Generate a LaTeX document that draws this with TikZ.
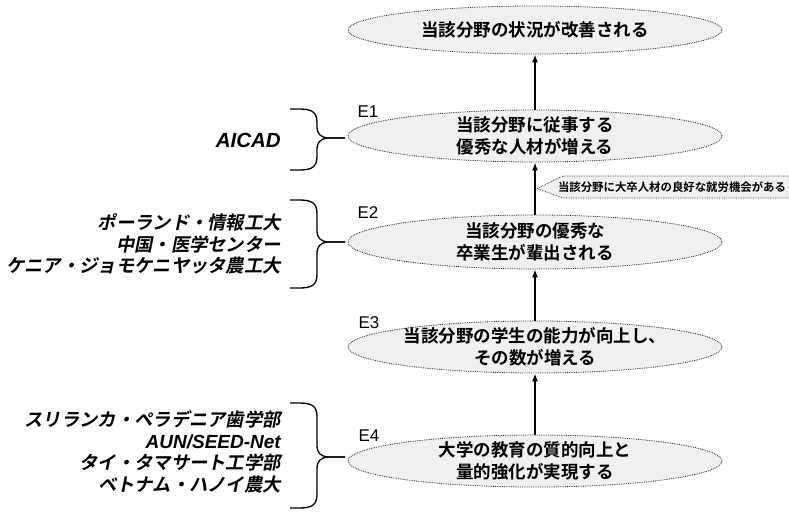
\documentclass[tikz,border=0pt]{standalone}
\usepackage{fontspec}
\setsansfont{Liberation Sans}
\newfontfamily\jp{Noto Sans CJK JP}[BoldFont={Noto Sans CJK JP Bold}]
\newfontfamily\jpit{Noto Sans CJK JP Bold}[FakeSlant=0.2]
\usetikzlibrary{shapes.geometric,arrows.meta,calc}

% curly bracket from the organisations to one goal: top, bottom, tip
\newcommand{\orgbrace}[3]{%
  \draw[bracket] (290,#1) -- (299,#1) .. controls (312,#1) and (317,#1+3) .. (317,#1+14)
    -- (317,#3-12) .. controls (317,#3-4) and (320,#3-1) .. (328,#3) -- (345,#3);
  \draw[bracket] (345,#3) -- (328,#3) .. controls (320,#3+1) and (317,#3+4) .. (317,#3+12)
    -- (317,#2-14) .. controls (317,#2-3) and (312,#2) .. (299,#2) -- (290,#2);}

\tikzset{
  goal/.style={ellipse, draw=black!85, densely dotted, line width=0.8pt, fill=gray!12,
    minimum width=374pt, minimum height=52pt, inner sep=-8pt, align=center,
    font=\jp\bfseries\fontsize{17.5}{22}\selectfont},
  elabel/.style={inner sep=0pt, font=\sffamily\fontsize{17}{17}\selectfont},
  orgs/.style={anchor=east, align=right, inner sep=0pt,
    font=\jpit\fontsize{18.3}{21.5}\selectfont},
  latinorg/.style={font=\sffamily\bfseries\itshape\fontsize{20.5}{24}\selectfont},
  link/.style={-{Latex[length=8pt,width=6pt]}, line width=1.6pt},
  bracket/.style={line width=1.3pt},
  note/.style={inner sep=0pt, font=\jp\bfseries\fontsize{11.4}{12}\selectfont},
  noteedge/.style={draw=black!85, densely dotted, line width=0.7pt}
}

\begin{document}
\begin{tikzpicture}[x=1pt,y=-1pt]
  \useasboundingbox[fill=white] (0,0) rectangle (789,511);

  % Goals, from the top down
  \node[goal, minimum height=48pt] (top) at (535,30) {当該分野の状況が改善される};
  \node[goal] (e1) at (535,136) {当該分野に従事する\\優秀な人材が増える};
  \node[goal, minimum height=54pt] (e2) at (535,242) {当該分野の優秀な\\卒業生が輩出される};
  \node[goal] (e3) at (535,347) {当該分野の学生の能力が向上し、\\その数が増える};
  \node[goal] (e4) at (535,461) {大学の教育の質的向上と\\量的強化が実現する};

  % Level labels
  \node[elabel] (l1) at (368,112) {E1};
  \node[elabel] (l2) at (368,213) {E2};
  \node[elabel] (l3) at (369,323) {E3};
  \node[elabel] (l4) at (369,436) {E4};

  % Arrows between goals
  \draw[link] (e4) -- (e3);
  \draw[link] (e3) -- (e2);
  \draw[link] (e2) -- (e1);
  \draw[link] (e1) -- (top);

  % Assumption next to the arrow E2 -> E1
  \coordinate (fork) at ($(e2.north)!0.5!(e1.south)$);
  \fill[gray!12] ([xshift=2pt]fork) -- (563,176) -- (789,176) -- (789,198) -- (563,198) -- cycle;
  \draw[noteedge] (789,176) -- (563,176) -- ([xshift=2pt]fork) -- (563,198) -- (789,198);
  \node[note] (chance) at (672,187) {当該分野に大卒人材の良好な就労機会がある};

  % Organisations on the left
  \node[orgs, latinorg] (aicad) at (281,140) {AICAD};
  \node[orgs] (grp2) at (281,244) {ポーランド・情報工大\\中国・医学センター\\ケニア・ジョモケニヤッタ農工大};
  \node[orgs] (grp4) at (281,452) {スリランカ・ペラデニア歯学部\\{\sffamily\bfseries\itshape\fontsize{19}{21.5}\selectfont AUN/SEED-Net}\\タイ・タマサート工学部\\ベトナム・ハノイ農大};

  % Brackets
  \orgbrace{109}{170}{138}
  \orgbrace{200}{288}{242}
  \orgbrace{403}{508}{457}

\end{tikzpicture}
\end{document}
